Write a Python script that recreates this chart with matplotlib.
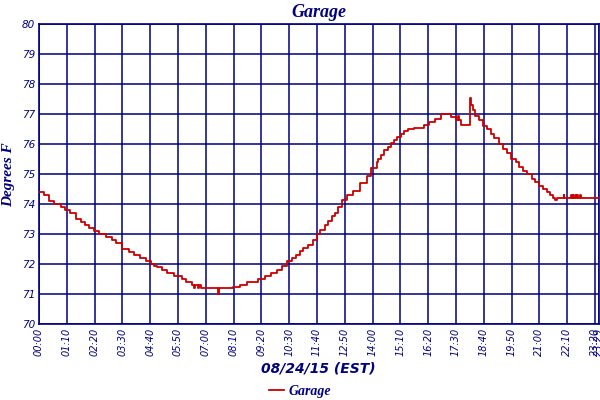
import matplotlib.pyplot as plt
import numpy as np

# minutes after midnight, 08/24/15, and readings in deg F (step data)
minutes = [0, 12, 25, 38, 55, 66, 77, 92, 105, 115, 126, 139, 151, 168, 183,
           195, 210, 227, 239, 254, 269, 281, 290, 298, 311, 323, 340, 360,
           370, 385, 390, 392, 400, 402, 407, 451, 453, 489, 506, 524, 552,
           569, 585, 600, 613, 625, 636, 648, 657, 665, 678, 690, 700, 707,
           720, 728, 737, 745, 753, 762, 775, 791, 808, 825, 837, 850, 853,
           861, 870, 878, 886, 895, 902, 912, 920, 930, 944, 970, 983, 998,
           1012, 1037, 1050, 1056, 1058, 1063, 1086, 1088, 1092, 1099, 1109,
           1119, 1127, 1138, 1147, 1158, 1168, 1178, 1189, 1200, 1210, 1220,
           1228, 1241, 1250, 1258, 1269, 1279, 1287, 1295, 1300, 1304, 1321,
           1323, 1340, 1342, 1344, 1346, 1350, 1352, 1355, 1357, 1363, 1365,
           1409]
temps = [74.4, 74.3, 74.1, 74.0, 73.9, 73.8, 73.7, 73.5, 73.4, 73.3, 73.2,
         73.1, 73.0, 72.9, 72.8, 72.7, 72.5, 72.4, 72.3, 72.2, 72.1, 72.0,
         71.95, 71.9, 71.8, 71.7, 71.6, 71.5, 71.4, 71.3, 71.2, 71.3, 71.2,
         71.3, 71.2, 71.0, 71.2, 71.25, 71.3, 71.4, 71.5, 71.6, 71.7, 71.8,
         71.95, 72.1, 72.2, 72.3, 72.45, 72.55, 72.65, 72.8, 73.0, 73.15,
         73.3, 73.45, 73.6, 73.7, 73.9, 74.15, 74.3, 74.45, 74.7, 74.95,
         75.2, 75.4, 75.5, 75.65, 75.8, 75.9, 76.05, 76.15, 76.25, 76.35,
         76.45, 76.5, 76.55, 76.65, 76.75, 76.85, 77.0, 76.9, 76.8, 76.95,
         76.8, 76.65, 77.55, 77.3, 77.15, 76.95, 76.8, 76.6, 76.5, 76.35,
         76.2, 76.0, 75.85, 75.7, 75.5, 75.4, 75.25, 75.1, 75.0, 74.85,
         74.75, 74.6, 74.5, 74.4, 74.3, 74.2, 74.15, 74.2, 74.3, 74.2, 74.3,
         74.2, 74.3, 74.2, 74.3, 74.2, 74.3, 74.2, 74.3, 74.2, 74.2]

x_ticks = list(range(0, 1401, 70)) + [1409]
x_labels = ["%02d:%02d" % (m // 60, m % 60) for m in x_ticks]
y_ticks = list(range(70, 81))

navy = "#000080"
serif = "Liberation Serif"

fig = plt.figure(figsize=(6, 4), dpi=100)
ax = fig.add_axes([0.065, 0.19, 0.9325, 0.749])

ax.plot(minutes, temps, drawstyle="steps-post", color="#cc0000", lw=1.3,
        label="Garage", zorder=3)

ax.set_xlim(0, 1409)
ax.set_ylim(70, 80)
ax.set_xticks(x_ticks)
ax.set_xticklabels(x_labels, rotation=90, fontsize=7, style="italic",
                   color=navy)
ax.set_yticks(y_ticks)
ax.set_yticklabels([str(v) for v in y_ticks], fontsize=7.5, style="italic",
                   color=navy)
ax.tick_params(length=0, pad=3)
ax.grid(True, color=navy, lw=1.1)
for s in ax.spines.values():
    s.set_color(navy)
    s.set_linewidth(1.2)

ax.set_title("Garage", fontsize=13, fontweight="bold", style="italic",
             family=serif, color=navy, pad=5)
ax.set_ylabel("Degrees F", fontsize=11, fontweight="bold", style="italic",
              family=serif, color=navy, labelpad=5)
ax.set_xlabel("08/24/15 (EST)", fontsize=10, style="italic",
              fontweight="bold", color=navy, labelpad=4)

leg = fig.legend(loc="lower center", bbox_to_anchor=(0.5, -0.025),
                 frameon=False, handlelength=1.1, handletextpad=0.3,
                 prop=dict(family=serif, weight="bold", style="italic",
                           size=10))
for t in leg.get_texts():
    t.set_color(navy)

fig.savefig("out.png", dpi=100)
